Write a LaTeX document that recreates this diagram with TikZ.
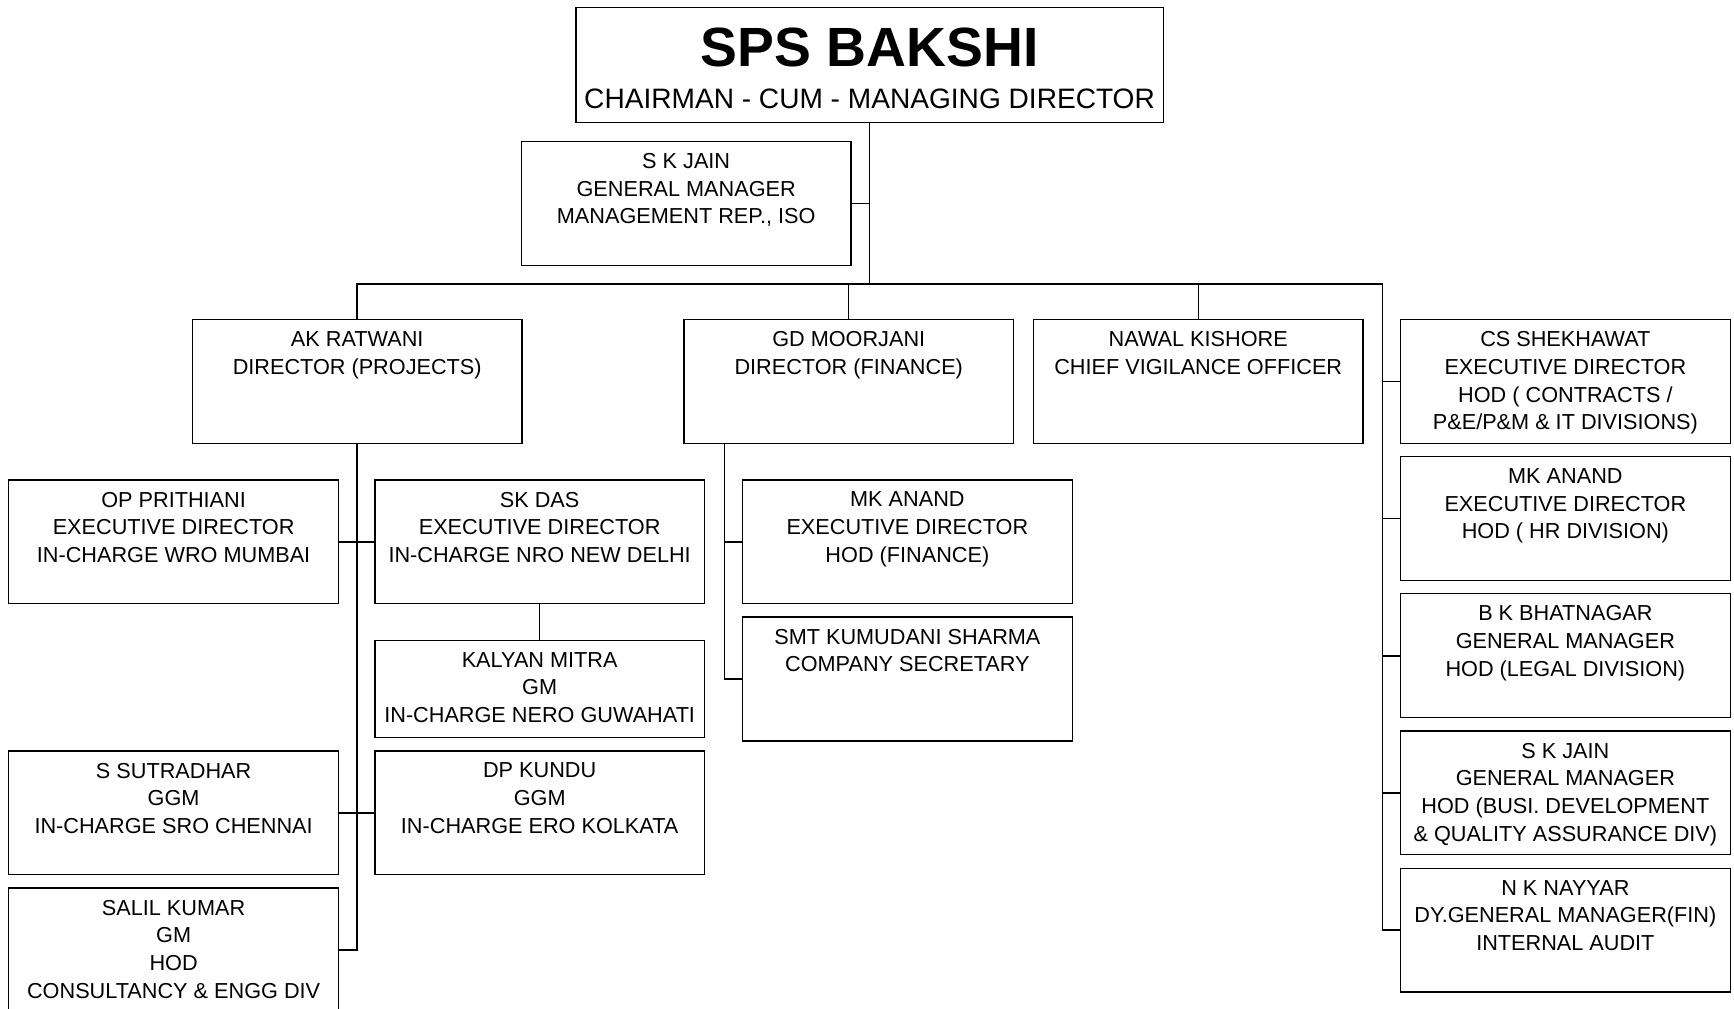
\documentclass[tikz,border=0pt]{standalone}
\usepackage{fontspec}
\setmainfont{Liberation Sans}
\tikzset{
  post/.style={draw, line width=1.1pt, minimum width=298pt, minimum height=112pt, inner sep=0pt},
  role/.style={anchor=north, align=center, inner sep=0pt, yshift=-11.2pt, font=\fontsize{19.6}{25}\selectfont},
  link/.style={line width=1.3pt}
}
\begin{document}
\begin{tikzpicture}[x=1pt,y=1pt]
\useasboundingbox (0,0) rectangle (1568,-912.4);
\node[post, minimum width=531pt, minimum height=104pt,
  label={[anchor=base, inner sep=0pt, yshift=-53.7pt, font=\fontsize{50}{50}\selectfont\bfseries]north:SPS BAKSHI},
  label={[anchor=base, inner sep=0pt, yshift=13.5pt, font=\fontsize{25.4}{30}\selectfont]south:CHAIRMAN - CUM - MANAGING DIRECTOR}] (cmd) at (786.3,-58.8) {};
\node[post, label={[role]north:{S K JAIN\\GENERAL MANAGER\\MANAGEMENT REP., ISO}}] (mrjain) at (620.5,-184) {};
\node[post, label={[role]north:{AK RATWANI\\DIRECTOR (PROJECTS)}}] (ratwani) at (323,-345) {};
\node[post, label={[role]north:{GD MOORJANI\\DIRECTOR (FINANCE)}}] (moorjani) at (767.5,-345) {};
\node[post, label={[role]north:{NAWAL KISHORE\\CHIEF VIGILANCE OFFICER}}] (kishore) at (1083.5,-345) {};
\node[post, label={[role]north:{CS SHEKHAWAT\\EXECUTIVE DIRECTOR\\HOD ( CONTRACTS /\\P\&E/P\&M \& IT DIVISIONS)}}] (shekhawat) at (1415.5,-345) {};
\node[post, label={[role]north:{MK ANAND\\EXECUTIVE DIRECTOR\\HOD ( HR DIVISION)}}] (anand) at (1415.5,-469) {};
\node[post, label={[role]north:{B K BHATNAGAR\\GENERAL MANAGER\\HOD (LEGAL DIVISION)}}] (bhatnagar) at (1415.5,-593) {};
\node[post, label={[role]north:{S K JAIN\\GENERAL MANAGER\\HOD (BUSI. DEVELOPMENT\\\& QUALITY ASSURANCE DIV)}}] (bdjain) at (1415.5,-717) {};
\node[post, label={[role]north:{N K NAYYAR\\DY.GENERAL MANAGER(FIN)\\INTERNAL AUDIT}}] (nayyar) at (1415.5,-841) {};
\node[post, label={[role]north:{OP PRITHIANI\\EXECUTIVE DIRECTOR\\IN-CHARGE WRO MUMBAI}}] (prithiani) at (157,-490) {};
\node[post, label={[role]north:{SK DAS\\EXECUTIVE DIRECTOR\\IN-CHARGE NRO NEW DELHI}}] (das) at (488,-490) {};
\node[post, minimum height=88pt, label={[role]north:{KALYAN MITRA\\GM\\IN-CHARGE NERO GUWAHATI}}] (mitra) at (488,-623) {};
\node[post, label={[role]north:{S SUTRADHAR\\GGM\\IN-CHARGE SRO CHENNAI}}] (sutradhar) at (157,-735) {};
\node[post, label={[role]north:{DP KUNDU\\GGM\\IN-CHARGE ERO KOLKATA}}] (kundu) at (488,-735) {};
\node[post, label={[role]north:{SALIL KUMAR\\GM\\HOD\\CONSULTANCY \& ENGG DIV}}] (salil) at (157,-859) {};
\node[post, label={[role]north:{MK ANAND\\EXECUTIVE DIRECTOR\\HOD (FINANCE)}}] (mkanand) at (820.5,-490) {};
\node[post, label={[role]north:{SMT KUMUDANI SHARMA\\COMPANY SECRETARY}}] (kumudani) at (820.5,-614) {};

\coordinate (bus) at (786.3,-257);
\coordinate (rbus) at (1250,-841);
\coordinate (fin) at (655,-401);
\draw[link] (cmd.south) -- (bus);
\draw[link] (mrjain.east) -- (mrjain.east -| cmd.south);
\draw[link] (ratwani.north) |- (bus -| rbus) -- (rbus);
\draw[link] (moorjani.north) -- (moorjani.north |- bus);
\draw[link] (kishore.north) -- (kishore.north |- bus);
\foreach \n in {shekhawat,anand,bhatnagar,bdjain,nayyar}
  \draw[link] (\n.west) -- (\n.west -| rbus);
\draw[link] (ratwani.south) |- (salil.east);
\draw[link] (prithiani.east) -- (das.west);
\draw[link] (sutradhar.east) -- (kundu.west);
\draw[link] (das.south) -- (mitra.north);
\draw[link] (fin) |- (kumudani.west);
\draw[link] (mkanand.west) -- (mkanand.west -| fin);
\end{tikzpicture}
\end{document}
